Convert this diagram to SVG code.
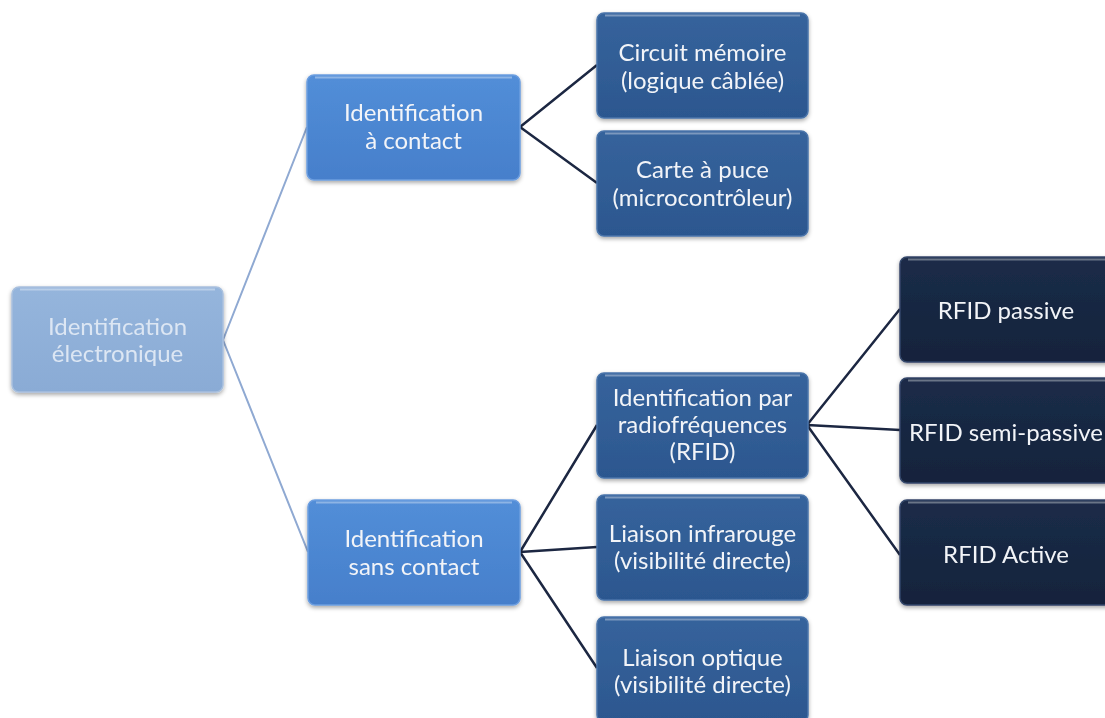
<svg xmlns="http://www.w3.org/2000/svg" width="1105" height="718" viewBox="0 0 1105 718">
<defs>
<style>
text{font-family:Lato,"Open Sans","Liberation Sans",sans-serif;font-size:24px;text-anchor:middle;fill:#f2f4f8}
.root rect.b{fill:url(#gRoot);stroke:#a9c0de;stroke-width:1.5}
.l1 rect.b{fill:url(#gL1);stroke:#6c9ee0;stroke-width:1.5}
.l2 rect.b{fill:url(#gL2);stroke:#4a74aa;stroke-width:1.5}
.l3 rect.b{fill:url(#gL3);stroke:#34466a;stroke-width:1.5}
.root text{fill:#dce6f3}
.hl{fill:none;stroke:#ffffff;stroke-opacity:0.35;stroke-width:2}
.conn-light{stroke:#8fa9d2;stroke-width:2;fill:none}
.conn-dark{stroke:#1c2742;stroke-width:2.5;fill:none}
</style>
<linearGradient id="gRoot" x1="0" y1="0" x2="0" y2="1"><stop offset="0" stop-color="#95b5dc"/><stop offset="1" stop-color="#8aabd5"/></linearGradient>
<linearGradient id="gL1" x1="0" y1="0" x2="0" y2="1"><stop offset="0" stop-color="#528ed8"/><stop offset="1" stop-color="#467fcb"/></linearGradient>
<linearGradient id="gL2" x1="0" y1="0" x2="0" y2="1"><stop offset="0" stop-color="#36639c"/><stop offset="1" stop-color="#2c578f"/></linearGradient>
<linearGradient id="gL3" x1="0" y1="0" x2="0" y2="1"><stop offset="0" stop-color="#1b2c48"/><stop offset="1" stop-color="#14233c"/></linearGradient>
<filter id="sh" x="-10%" y="-10%" width="120%" height="130%"><feDropShadow dx="0" dy="2" stdDeviation="2" flood-color="#000" flood-opacity="0.35"/></filter>
</defs>
<rect width="1105" height="718" fill="#ffffff"/>
<g id="connectors">
<path class="conn-light" d="M223,340 L307,127 M223,340 L308,552"/>
<path class="conn-dark" d="M520,127 L597,65 M520,127 L597,183"/>
<path class="conn-dark" d="M520,552 L597,425 M520,552 L597,547 M520,552 L597,668"/>
<path class="conn-dark" d="M807,425 L900,309 M807,425 L900,430 M807,425 L900,555"/>
</g>
<g id="n-root" class="root" filter="url(#sh)"><rect class="b" x="12" y="287" width="211" height="105" rx="7"/><path class="hl" d="M20,289.5 H215"/><text x="117.5" y="335">Identification</text><text x="117.5" y="362">électronique</text></g>
<g id="n-contact" class="l1" filter="url(#sh)"><rect class="b" x="307" y="75" width="213" height="105" rx="7"/><path class="hl" d="M315,77.5 H512"/><text x="413.5" y="121">Identification</text><text x="413.5" y="149">à contact</text></g>
<g id="n-sanscontact" class="l1" filter="url(#sh)"><rect class="b" x="308" y="500" width="212" height="105" rx="7"/><path class="hl" d="M316,502.5 H512"/><text x="414" y="547">Identification</text><text x="414" y="575">sans contact</text></g>
<g id="n-circuit" class="l2" filter="url(#sh)"><rect class="b" x="597" y="13" width="211" height="105" rx="7"/><path class="hl" d="M605,15.5 H800"/><text x="702.5" y="61">Circuit mémoire</text><text x="702.5" y="89">(logique câblée)</text></g>
<g id="n-carte" class="l2" filter="url(#sh)"><rect class="b" x="597" y="131" width="211" height="105" rx="7"/><path class="hl" d="M605,133.5 H800"/><text x="702.5" y="178">Carte à puce</text><text x="702.5" y="206">(microcontrôleur)</text></g>
<g id="n-rfid" class="l2" filter="url(#sh)"><rect class="b" x="597" y="373" width="211" height="105" rx="7"/><path class="hl" d="M605,375.5 H800"/><text x="702.5" y="406">Identification par</text><text x="702.5" y="433">radiofréquences</text><text x="702.5" y="460">(RFID)</text></g>
<g id="n-infrarouge" class="l2" filter="url(#sh)"><rect class="b" x="597" y="495" width="211" height="105" rx="7"/><path class="hl" d="M605,497.5 H800"/><text x="702.5" y="542">Liaison infrarouge</text><text x="702.5" y="569">(visibilité directe)</text></g>
<g id="n-optique" class="l2" filter="url(#sh)"><rect class="b" x="597" y="617" width="211" height="105" rx="7"/><path class="hl" d="M605,619.5 H800"/><text x="702.5" y="666">Liaison optique</text><text x="702.5" y="693">(visibilité directe)</text></g>
<g id="n-passive" class="l3" filter="url(#sh)"><rect class="b" x="900" y="257" width="215" height="105" rx="7"/><path class="hl" d="M908,259.5 H1105"/><text x="1006" y="319">RFID passive</text></g>
<g id="n-semipassive" class="l3" filter="url(#sh)"><rect class="b" x="900" y="378" width="215" height="105" rx="7"/><path class="hl" d="M908,380.5 H1105"/><text x="1006" y="441">RFID semi-passive</text></g>
<g id="n-active" class="l3" filter="url(#sh)"><rect class="b" x="900" y="500" width="215" height="105" rx="7"/><path class="hl" d="M908,502.5 H1105"/><text x="1006" y="563">RFID Active</text></g>
</svg>
